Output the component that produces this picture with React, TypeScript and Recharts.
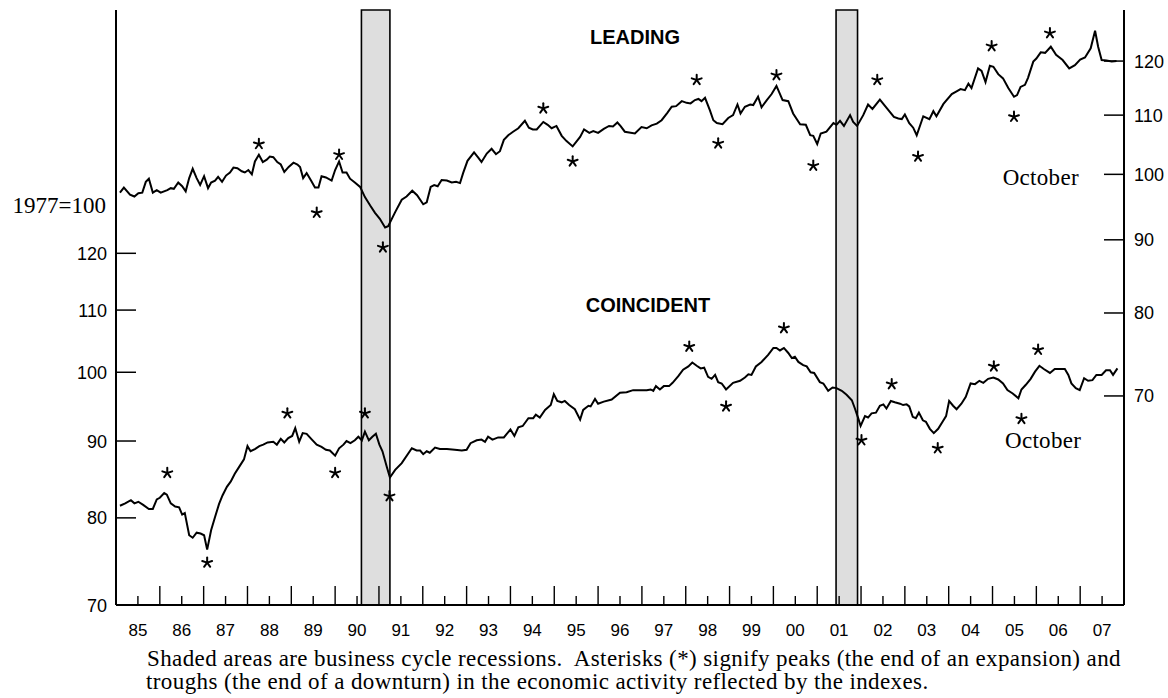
import React from 'react'
import { ComposedChart, Line, XAxis, YAxis, ReferenceArea, ReferenceDot } from 'recharts'

// x values are fractional years, y values are index levels (1977=100)
const yearLabels = ['85', '86', '87', '88', '89', '90', '91', '92', '93', '94', '95', '96', '97', '98', '99', '00', '01', '02', '03', '04', '05', '06', '07']
const firstYear = 1985
const leftTicks = [70, 80, 90, 100, 110, 120]
const rightTicks = [70, 80, 90, 100, 110, 120]
const recessions: [number, number][] = [[1990.6, 1991.25], [2001.43, 2001.92]]

const leading: [number, number][] = [
  [1985.09, 97.1], [1985.18, 97.9], [1985.32, 96.8], [1985.42, 96.5], [1985.51, 97.0], [1985.6, 97.1], [1985.68, 98.8], [1985.75, 99.3],
  [1985.84, 97.1], [1985.93, 97.5], [1986.02, 97.1], [1986.17, 97.5], [1986.25, 97.8], [1986.32, 97.7], [1986.42, 98.7], [1986.51, 98.1],
  [1986.59, 97.3], [1986.67, 99.4], [1986.75, 100.9], [1986.84, 99.4], [1986.92, 98.3], [1987.01, 99.7], [1987.1, 97.8], [1987.17, 98.7],
  [1987.26, 99.0], [1987.33, 99.6], [1987.42, 98.8], [1987.51, 99.8], [1987.6, 100.3], [1987.68, 101.1], [1987.77, 101.0], [1987.87, 100.5],
  [1987.94, 100.3], [1988.02, 100.7], [1988.1, 100.0], [1988.17, 102.1], [1988.26, 103.2], [1988.35, 102.0], [1988.44, 102.4], [1988.51, 102.9],
  [1988.59, 102.8], [1988.68, 102.0], [1988.76, 101.6], [1988.84, 100.4], [1988.94, 101.2], [1989.05, 101.9], [1989.14, 101.6], [1989.2, 101.2],
  [1989.27, 99.4], [1989.35, 100.2], [1989.45, 99.0], [1989.54, 97.9], [1989.62, 97.9], [1989.69, 99.7], [1989.79, 99.5], [1989.92, 99.0],
  [1990.0, 100.7], [1990.09, 102.1], [1990.17, 100.3], [1990.26, 100.3], [1990.34, 99.3], [1990.45, 98.7], [1990.57, 98.0], [1990.68, 96.4],
  [1990.8, 95.1], [1990.91, 94.0], [1991.02, 93.1], [1991.14, 91.8], [1991.21, 92.0], [1991.37, 94.1], [1991.52, 96.0], [1991.63, 96.5],
  [1991.76, 97.4], [1991.87, 96.7], [1992.01, 95.3], [1992.09, 95.6], [1992.18, 98.0], [1992.26, 98.3], [1992.34, 98.1], [1992.43, 99.1],
  [1992.55, 99.0], [1992.66, 98.7], [1992.76, 98.8], [1992.85, 98.6], [1992.92, 100.2], [1993.02, 102.2], [1993.17, 103.6], [1993.27, 102.7],
  [1993.34, 102.0], [1993.46, 103.4], [1993.57, 104.2], [1993.67, 103.3], [1993.76, 103.8], [1993.85, 105.7], [1993.95, 106.5], [1994.06, 107.1],
  [1994.18, 107.7], [1994.33, 109.0], [1994.42, 107.8], [1994.51, 107.5], [1994.6, 107.5], [1994.75, 108.8], [1994.85, 108.3], [1994.94, 107.7],
  [1995.05, 108.1], [1995.17, 106.4], [1995.28, 105.5], [1995.42, 104.6], [1995.59, 106.2], [1995.68, 107.5], [1995.8, 106.9], [1995.89, 107.2],
  [1996.0, 106.9], [1996.13, 107.6], [1996.25, 108.1], [1996.34, 108.0], [1996.44, 108.7], [1996.51, 108.1], [1996.61, 107.1], [1996.84, 106.8],
  [1996.99, 107.9], [1997.11, 107.7], [1997.22, 108.2], [1997.34, 108.5], [1997.45, 109.1], [1997.58, 110.4], [1997.68, 111.5], [1997.78, 111.6],
  [1997.91, 112.5], [1998.02, 112.2], [1998.11, 112.1], [1998.21, 112.7], [1998.29, 112.9], [1998.36, 112.5], [1998.44, 113.1], [1998.55, 110.9],
  [1998.63, 109.1], [1998.71, 108.6], [1998.84, 108.4], [1998.97, 109.5], [1999.08, 110.0], [1999.18, 111.9], [1999.25, 110.3], [1999.35, 111.5],
  [1999.47, 111.9], [1999.54, 111.8], [1999.65, 113.3], [1999.73, 111.4], [1999.85, 112.7], [1999.96, 113.8], [2000.07, 115.3], [2000.21, 112.7],
  [2000.34, 112.5], [2000.45, 110.3], [2000.61, 108.4], [2000.74, 108.3], [2000.84, 106.5], [2000.91, 106.4], [2001.0, 105.0], [2001.08, 106.8],
  [2001.21, 107.1], [2001.37, 108.6], [2001.44, 108.3], [2001.52, 109.0], [2001.61, 108.1], [2001.75, 110.0], [2001.82, 108.8], [2001.91, 108.1],
  [2002.05, 110.0], [2002.16, 111.9], [2002.26, 111.1], [2002.43, 112.8], [2002.55, 111.6], [2002.75, 109.7], [2002.85, 109.4], [2002.93, 109.3],
  [2003.0, 110.1], [2003.1, 108.6], [2003.19, 107.8], [2003.27, 106.5], [2003.42, 109.8], [2003.56, 109.3], [2003.65, 110.7], [2003.72, 109.8],
  [2003.88, 112.0], [2004.07, 113.8], [2004.18, 114.3], [2004.27, 114.7], [2004.37, 114.5], [2004.45, 115.7], [2004.52, 114.9], [2004.67, 118.6],
  [2004.75, 118.1], [2004.84, 116.0], [2004.94, 119.1], [2005.02, 118.9], [2005.13, 117.5], [2005.24, 116.7], [2005.36, 114.9], [2005.49, 113.3],
  [2005.56, 113.6], [2005.64, 115.1], [2005.74, 115.5], [2005.81, 116.8], [2005.93, 119.9], [2006.0, 120.5], [2006.1, 121.7], [2006.2, 121.6],
  [2006.33, 122.8], [2006.45, 121.2], [2006.6, 120.2], [2006.75, 118.6], [2006.88, 119.2], [2007.0, 120.3], [2007.11, 120.7], [2007.24, 122.5],
  [2007.34, 126.0], [2007.41, 122.8], [2007.49, 120.2], [2007.6, 120.1], [2007.72, 119.9], [2007.83, 120.0],
]

const coincident: [number, number][] = [
  [1985.09, 81.5], [1985.21, 81.8], [1985.34, 82.2], [1985.42, 81.8], [1985.51, 82.0], [1985.62, 81.6], [1985.75, 81.1], [1985.84, 81.1],
  [1985.93, 82.3], [1986.0, 82.5], [1986.1, 83.1], [1986.16, 82.9], [1986.25, 81.8], [1986.35, 81.4], [1986.44, 81.3], [1986.51, 80.4],
  [1986.57, 80.6], [1986.67, 77.9], [1986.75, 77.6], [1986.84, 78.2], [1986.93, 78.1], [1987.01, 77.9], [1987.08, 76.2], [1987.17, 78.5],
  [1987.26, 80.1], [1987.35, 81.7], [1987.43, 82.8], [1987.53, 83.9], [1987.62, 84.6], [1987.71, 85.6], [1987.81, 86.5], [1987.92, 87.5],
  [1988.0, 89.3], [1988.07, 88.6], [1988.17, 88.9], [1988.27, 89.3], [1988.36, 89.5], [1988.46, 89.8], [1988.59, 89.9], [1988.67, 89.5],
  [1988.76, 90.3], [1988.84, 89.8], [1988.93, 90.4], [1989.02, 90.7], [1989.09, 91.8], [1989.18, 89.9], [1989.26, 91.1], [1989.35, 91.0],
  [1989.47, 90.2], [1989.58, 89.5], [1989.69, 89.2], [1989.79, 88.8], [1989.88, 88.7], [1990.0, 88.0], [1990.09, 89.0], [1990.19, 89.5],
  [1990.26, 90.0], [1990.35, 89.7], [1990.45, 90.1], [1990.53, 90.6], [1990.61, 90.1], [1990.68, 91.3], [1990.77, 90.1], [1990.85, 90.6],
  [1990.93, 91.0], [1991.01, 89.5], [1991.08, 88.6], [1991.18, 86.5], [1991.25, 85.1], [1991.37, 86.1], [1991.52, 87.0], [1991.75, 89.0],
  [1991.86, 88.7], [1991.94, 88.7], [1992.01, 88.2], [1992.09, 88.6], [1992.16, 88.4], [1992.28, 89.1], [1992.39, 88.9], [1992.55, 88.9],
  [1992.73, 88.8], [1992.89, 88.7], [1993.0, 88.8], [1993.09, 89.7], [1993.23, 90.1], [1993.34, 90.2], [1993.42, 89.9], [1993.49, 90.6],
  [1993.59, 90.2], [1993.72, 90.5], [1993.85, 90.5], [1994.0, 91.6], [1994.09, 90.7], [1994.18, 91.9], [1994.28, 92.1], [1994.41, 93.2],
  [1994.52, 93.2], [1994.58, 93.7], [1994.67, 93.3], [1994.79, 94.4], [1994.92, 95.1], [1994.99, 96.7], [1995.07, 95.7], [1995.17, 95.5],
  [1995.24, 95.7], [1995.34, 95.1], [1995.47, 94.5], [1995.59, 93.0], [1995.66, 94.4], [1995.78, 95.0], [1995.83, 94.9], [1995.93, 96.0],
  [1996.0, 95.3], [1996.13, 95.6], [1996.31, 95.9], [1996.5, 96.9], [1996.65, 97.0], [1996.8, 97.3], [1997.11, 97.3], [1997.2, 97.4],
  [1997.26, 97.2], [1997.32, 97.9], [1997.41, 97.4], [1997.5, 97.9], [1997.62, 97.9], [1997.7, 98.4], [1997.83, 99.4], [1997.94, 100.4],
  [1998.06, 100.9], [1998.15, 101.5], [1998.25, 101.0], [1998.34, 100.6], [1998.42, 100.7], [1998.51, 99.3], [1998.59, 99.0], [1998.67, 99.6],
  [1998.74, 98.5], [1998.82, 98.3], [1998.92, 97.4], [1999.08, 98.4], [1999.24, 98.7], [1999.35, 99.2], [1999.43, 99.7], [1999.5, 99.6],
  [1999.6, 100.9], [1999.73, 101.6], [1999.88, 102.7], [2000.0, 103.8], [2000.07, 103.8], [2000.15, 103.4], [2000.24, 103.8], [2000.34, 103.0],
  [2000.42, 102.2], [2000.49, 102.4], [2000.57, 101.6], [2000.68, 101.1], [2000.76, 100.9], [2000.85, 100.0], [2000.93, 99.9], [2001.06, 98.5],
  [2001.14, 98.3], [2001.25, 97.2], [2001.35, 97.7], [2001.44, 97.6], [2001.56, 97.2], [2001.67, 96.6], [2001.79, 95.8], [2001.86, 94.6],
  [2001.94, 93.1], [2001.99, 92.1], [2002.09, 93.5], [2002.16, 93.3], [2002.24, 93.9], [2002.34, 94.0], [2002.43, 95.0], [2002.51, 95.2],
  [2002.58, 94.6], [2002.68, 95.7], [2002.77, 95.5], [2002.89, 95.3], [2002.96, 95.1], [2003.04, 95.2], [2003.1, 94.9], [2003.18, 93.4],
  [2003.25, 93.2], [2003.32, 94.0], [2003.41, 92.9], [2003.48, 92.7], [2003.57, 91.7], [2003.66, 91.1], [2003.76, 91.7], [2003.86, 92.7],
  [2003.94, 93.5], [2004.01, 95.7], [2004.1, 95.0], [2004.18, 94.5], [2004.29, 95.3], [2004.39, 96.3], [2004.5, 98.3], [2004.6, 98.2],
  [2004.7, 98.7], [2004.79, 98.4], [2004.9, 99.0], [2005.02, 99.2], [2005.13, 98.9], [2005.24, 98.3], [2005.34, 97.3], [2005.46, 96.8],
  [2005.59, 96.1], [2005.66, 97.4], [2005.76, 98.1], [2005.87, 99.0], [2005.97, 100.1], [2006.07, 101.0], [2006.17, 100.5], [2006.31, 99.9],
  [2006.42, 100.5], [2006.65, 100.5], [2006.73, 99.6], [2006.8, 98.3], [2006.9, 97.6], [2006.99, 97.3], [2007.09, 99.1], [2007.18, 98.7],
  [2007.28, 98.8], [2007.37, 99.6], [2007.49, 99.6], [2007.59, 100.3], [2007.68, 100.3], [2007.75, 99.6], [2007.85, 100.6],
]

// asterisks marking peaks and troughs, placed where they sit on the chart
const leadingStars: [number, number][] = [
  [1988.26, 105.0], [1989.58, 94.0], [1990.09, 103.2], [1991.09, 88.9], [1994.75, 111.2], [1995.42, 102.1], [1998.25, 116.4],
  [1998.74, 105.1], [2000.07, 117.3], [2000.91, 101.4], [2002.37, 116.4], [2003.3, 102.9], [2004.98, 122.9], [2005.49, 109.7], [2006.31, 125.5],
]
const coincidentStars: [number, number][] = [
  [1986.17, 85.7], [1987.08, 74.7], [1988.91, 93.9], [1990.0, 85.7], [1990.68, 93.9], [1991.24, 82.7], [1998.08, 104.0],
  [1998.92, 94.9], [2000.24, 107.0], [2002.01, 90.1], [2002.7, 98.2], [2003.75, 89.0], [2005.03, 100.9], [2005.66, 93.1], [2006.04, 103.5],
]

const leadingData = leading.map(([x, y]) => ({ x, y }))
const coincidentData = coincident.map(([x, y]) => ({ x, y }))
const xTicks = yearLabels.flatMap((_, i) => [firstYear + i, firstYear + i + 0.5])

const SANS = '"Liberation Sans", Arial, Helvetica, sans-serif'
const SERIF = '"Liberation Serif", "Times New Roman", Times, serif'

const YearTick = (props: any) => {
  const { x, y, payload } = props
  const v = payload.value
  const mid = v % 1 > 0.25
  if (!mid) return <line x1={x} x2={x} y1={y} y2={y - 19} stroke="#000" strokeWidth={1.4} />
  const label = yearLabels[Math.floor(v) - firstYear]
  return (
    <g>
      <line x1={x} x2={x} y1={y} y2={y - 9} stroke="#000" strokeWidth={1.4} />
      <text x={x} y={y + 31} textAnchor="middle" fontSize={17} fontFamily={SANS} fill="#000">{label}</text>
    </g>
  )
}

const LeftTick = (props: any) => {
  const { x, y, payload } = props
  return (
    <g>
      <line x1={x} x2={x + 20} y1={y} y2={y} stroke="#000" strokeWidth={1.5} />
      <text x={x - 9} y={y + 6.5} textAnchor="end" fontSize={18} fontFamily={SANS} fill="#000">{payload.value}</text>
    </g>
  )
}

const RightTick = (props: any) => {
  const { x, y, payload } = props
  return (
    <g>
      <line x1={x - 20} x2={x} y1={y} y2={y} stroke="#000" strokeWidth={1.5} />
      <text x={x + 10} y={y + 6.5} textAnchor="start" fontSize={18} fontFamily={SANS} fill="#000">{payload.value}</text>
    </g>
  )
}

const Star = (props: any) => {
  const { cx, cy } = props
  const r = 5.2
  return (
    <g>
      {[-90, -18, -162, 54, 126].map((a) => {
        const t = (a * Math.PI) / 180
        return <line key={a} x1={cx} y1={cy} x2={cx + r * Math.cos(t)} y2={cy + r * Math.sin(t)} stroke="#000" strokeWidth={2} strokeLinecap="round" />
      })}
    </g>
  )
}

export default function App() {
  return (
    <div style={{ position: 'absolute', left: 8, top: 8, width: 1160, height: 690 }}>
      <ComposedChart width={1160} height={640} margin={{ top: 2, right: 8, bottom: 3, left: 48 }}>
        <XAxis
          type="number"
          dataKey="x"
          domain={[1985, 2008]}
          allowDataOverflow
          ticks={xTicks}
          interval={0}
          tick={<YearTick />}
          tickLine={false}
          tickSize={0}
          tickMargin={0}
          height={40}
          axisLine={{ stroke: '#000', strokeWidth: 2 }}
        />
        <XAxis
          xAxisId="top"
          orientation="top"
          type="number"
          domain={[1985, 2008]}
          height={0}
          tick={false}
          tickLine={false}
          axisLine={{ stroke: '#000', strokeWidth: 2 }}
        />
        <YAxis
          yAxisId="left"
          type="number"
          dataKey="y"
          scale="log"
          domain={[70, 174.23]}
          allowDataOverflow
          ticks={leftTicks}
          interval={0}
          tick={<LeftTick />}
          tickLine={false}
          tickSize={0}
          tickMargin={0}
          width={60}
          axisLine={{ stroke: '#000', strokeWidth: 2 }}
        />
        <YAxis
          yAxisId="right"
          orientation="right"
          type="number"
          dataKey="y"
          scale="log"
          domain={[50, 130.28]}
          allowDataOverflow
          ticks={rightTicks}
          interval={0}
          tick={<RightTick />}
          tickLine={false}
          tickSize={0}
          tickMargin={0}
          width={36}
          axisLine={{ stroke: '#000', strokeWidth: 2 }}
        />
        {recessions.map(([a, b]) => (
          <ReferenceArea key={a} yAxisId="left" x1={a} x2={b} fill="#dedede" fillOpacity={1} stroke="#000" strokeWidth={1.6} />
        ))}
        <Line yAxisId="right" data={leadingData} dataKey="y" type="linear" stroke="#000" strokeWidth={2} dot={false} activeDot={false} isAnimationActive={false} />
        <Line yAxisId="left" data={coincidentData} dataKey="y" type="linear" stroke="#000" strokeWidth={2} dot={false} activeDot={false} isAnimationActive={false} />
        {leadingStars.map(([x, y]) => (
          <ReferenceDot key={`l${x}`} yAxisId="right" x={x} y={y} r={5} shape={(p: any) => <Star {...p} />} />
        ))}
        {coincidentStars.map(([x, y]) => (
          <ReferenceDot key={`c${x}`} yAxisId="left" x={x} y={y} r={5} shape={(p: any) => <Star {...p} />} />
        ))}
      </ComposedChart>
      <svg width={1160} height={690} style={{ position: 'absolute', left: 0, top: 0, pointerEvents: 'none' }}>
        <text x={627} y={36} textAnchor="middle" fontSize={20} fontWeight="bold" fontFamily={SANS}>LEADING</text>
        <text x={640} y={303.5} textAnchor="middle" fontSize={20} fontWeight="bold" fontFamily={SANS}>COINCIDENT</text>
        <text x={994.7} y={177} fontSize={23} letterSpacing={0.3} fontFamily={SERIF}>October</text>
        <text x={997} y={439.5} fontSize={23} letterSpacing={0.3} fontFamily={SERIF}>October</text>
        <text x={98} y={205} textAnchor="end" fontSize={23} fontFamily={SERIF}>1977=100</text>
        <text x={139} y={658} fontSize={23} letterSpacing={0.4} fontFamily={SERIF} style={{ whiteSpace: 'pre' }}>
          {'Shaded areas are business cycle recessions.  Asterisks (*) signify peaks (the end of an expansion) and'}
        </text>
        <text x={138} y={681.3} fontSize={23} letterSpacing={0.4} fontFamily={SERIF}>
          troughs (the end of a downturn) in the economic activity reflected by the indexes.
        </text>
      </svg>
    </div>
  )
}
